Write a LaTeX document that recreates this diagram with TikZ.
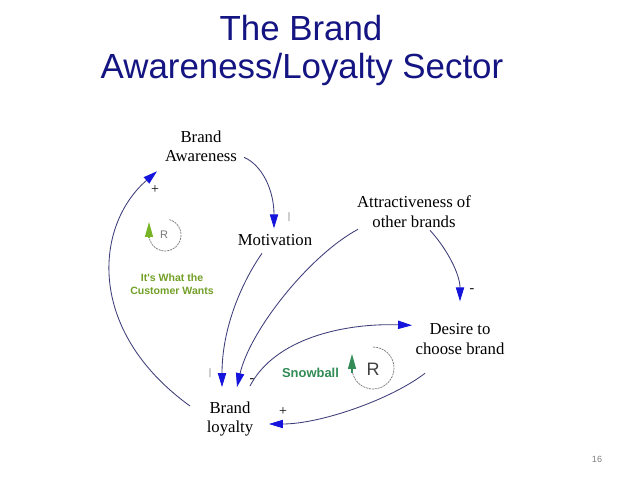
\documentclass[tikz,border=0pt]{standalone}
\usepackage{fontspec}
\setmainfont{Liberation Serif}
\newfontfamily\arialf{Liberation Sans}
\usetikzlibrary{arrows.meta,calc}
\definecolor{titleblue}{RGB}{20,20,130}
\definecolor{linkline}{RGB}{60,60,120}
\definecolor{tipblue}{RGB}{20,20,220}
\definecolor{loopgray}{RGB}{120,120,120}
\definecolor{olivegreen}{RGB}{115,160,40}
\definecolor{seagreen}{RGB}{50,140,85}
\definecolor{treegreen}{RGB}{120,180,40}
\begin{document}
\begin{tikzpicture}[x=0.025cm,y=-0.025cm,
  titletext/.style={font=\arialf\fontsize{24.8}{26}\selectfont, text=titleblue, inner sep=0, anchor=base},
  var/.style={font=\fontsize{11.9}{14.17}\selectfont, align=center, inner sep=0},
  link/.style={draw=linkline, line width=0.6pt, -{Triangle[length=9.9pt,width=5.9pt,color=tipblue]}},
  pol/.style={font=\fontsize{10}{12}\selectfont, inner sep=0},
  polbar/.style={font=\fontsize{7}{8}\selectfont, inner sep=0, text=darkgray},
  looparc/.style={draw=loopgray, line width=0.5pt, dash pattern=on 1.5pt off 0.6pt},
  looptip/.style={line width=0.8pt, -{Triangle[length=10.6pt,width=5.7pt]}}
]
\fill[white] (0,0) rectangle (640,480);
\useasboundingbox (0,0) rectangle (640,480);

\node[titletext] (t1) at (301,40) {The Brand};
\node[titletext] (t2) at (302,78) {Awareness/Loyalty Sector};

\node[var] (aw) at (201,146.3) {Brand\\Awareness};
\node[var] (mot) at (275,240.3) {Motivation};
\node[var] (att) at (414,211.3) {Attractiveness of\\other brands};
\node[var] (des) at (460,339.3) {Desire to\\choose brand};
\node[var] (bl) at (230,419) {Brand\\loyalty};

\draw[link] ($(aw)+(43,11)$) .. controls (262,165) and (274,190) .. ($(mot)+(-1,-12)$);
\draw[link] ($(mot)+(-13,13)$) .. controls (240,285) and (222,330) .. ($(bl)+(-8,-32)$);
\draw[link] ($(att)+(-56,18)$) .. controls (310,255) and (250,330) .. ($(bl)+(7,-32)$);
\draw[link] ($(att)+(16,19)$) .. controls (448,250) and (460,275) .. ($(des)+(0,-38)$);
\draw[link] ($(bl)+(20,-33)$) .. controls (275,338) and (345,323) .. ($(des)+(-48,-14)$);
\draw[link] ($(des)+(-35,34)$) .. controls (390,400) and (320,424) .. ($(bl)+(39,5)$);
\draw[link] ($(bl)+(-40,-13)$) .. controls (85,330) and (95,225) .. ($(aw)+(-44,25)$);

\node[pol] (p1) at (155,190) {+};
\node[polbar] (p2) at (289,217) {|};
\node[pol] (p3) at (472,291) {-};
\node[polbar] (p4) at (210,373) {|};
\node[pol] (p5) at (252,381) {-};
\node[pol] (p6) at (283,412) {+};

% loop R (left)
\draw[looparc] (165,235) ++(-74:16) arc[start angle=-74, end angle=180, radius=16];
\draw[looptip, treegreen] (149,237) -- (149,222);
\node[font=\arialf\fontsize{7.8}{9}\selectfont, text=loopgray, inner sep=0] (r1) at (164,235) {R};
\node[font=\arialf\bfseries\fontsize{7.5}{9.2}\selectfont, text=olivegreen, align=center, inner sep=0] (cw) at (172,284.6) {It's What the\\Customer Wants};

% loop R (right)
\draw[looparc] (373,368) ++(-90:21) arc[start angle=-90, end angle=170, radius=21];
\draw[looptip, seagreen] (352,373) -- (352,354);
\node[font=\arialf\fontsize{12.8}{14}\selectfont, text=darkgray, inner sep=0] (r2) at (373,369.5) {R};
\node[font=\arialf\bfseries\fontsize{9.2}{11}\selectfont, text=seagreen, anchor=base, inner sep=0] (sb) at (310.5,377) {Snowball};

\node[font=\arialf\fontsize{6.4}{8}\selectfont, text=gray, anchor=base, inner sep=0] (pg) at (597,462) {16};
\end{tikzpicture}
\end{document}
